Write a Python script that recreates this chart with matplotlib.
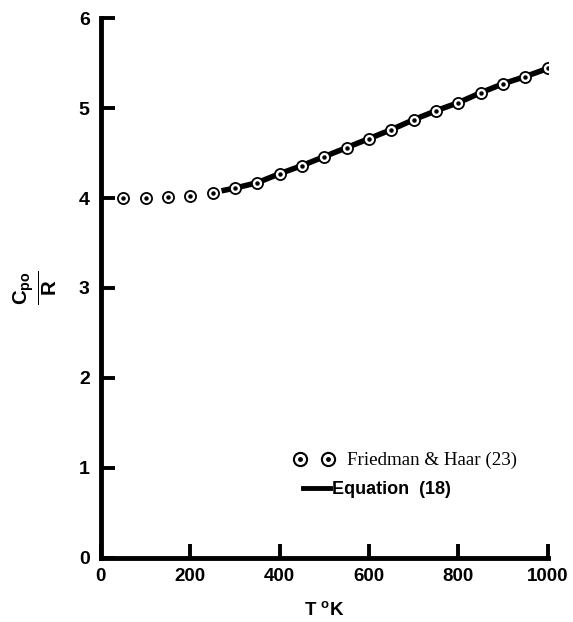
import matplotlib
matplotlib.use("Agg")
import matplotlib.pyplot as plt
from matplotlib.lines import Line2D

# Data: Friedman & Haar (23) points
T_points = [50, 100, 150, 200, 250, 300, 350, 400, 450, 500, 550, 600,
            650, 700, 750, 800, 850, 900, 950, 1000]
cp_points = [4.00, 4.00, 4.01, 4.02, 4.06, 4.11, 4.17, 4.27, 4.36, 4.46, 4.56,
             4.66, 4.76, 4.87, 4.97, 5.06, 5.17, 5.27, 5.34, 5.44]

# Equation (18) curve
T_eq = [270, 300, 350, 400, 450, 500, 550, 600, 650, 700, 750, 800, 850, 900, 950, 1000]
cp_eq = [4.08, 4.11, 4.17, 4.27, 4.36, 4.46, 4.56, 4.66, 4.76, 4.87, 4.97,
         5.06, 5.17, 5.27, 5.35, 5.44]

x_ticks = [0, 200, 400, 600, 800, 1000]
y_ticks = [0, 1, 2, 3, 4, 5, 6]

plt.rcParams['font.family'] = ['Liberation Sans', 'DejaVu Sans']
plt.rcParams['mathtext.fontset'] = 'custom'
plt.rcParams['mathtext.rm'] = 'Liberation Sans:bold'
plt.rcParams['mathtext.bf'] = 'Liberation Sans:bold'
plt.rcParams['mathtext.it'] = 'Liberation Sans:bold'

fig = plt.figure(figsize=(5.73, 6.22), dpi=100)
ax = fig.add_axes([0.176, 0.103, 0.780, 0.868])

ax.plot(T_eq, cp_eq, color='black', lw=4.0, solid_capstyle='butt', zorder=2)
ax.plot(T_points, cp_points, linestyle='none', marker='o', markersize=8,
        markerfacecolor='white', markeredgecolor='black', markeredgewidth=1.3, zorder=3)
ax.plot(T_points, cp_points, linestyle='none', marker='o', markersize=2.2,
        markerfacecolor='black', markeredgecolor='black', zorder=4)

ax.set_xlim(0, 1000)
ax.set_ylim(0, 6)
ax.set_xticks(x_ticks)
ax.set_yticks(y_ticks)
ax.set_xticklabels([str(v) for v in x_ticks], fontsize=13.5, fontweight='bold')
ax.set_yticklabels([str(v) for v in y_ticks], fontsize=14, fontweight='bold')

for s in ['top', 'right']:
    ax.spines[s].set_visible(False)
for s in ['left', 'bottom']:
    ax.spines[s].set_linewidth(3.5)
ax.tick_params(axis='both', direction='in', length=10, width=2.8)
ax.tick_params(axis='y', pad=8)
ax.tick_params(axis='x', pad=7)

ax.set_xlabel(r'T $^{\mathbf{o}}$K', fontsize=13.5, fontweight='bold', labelpad=12)
ax.set_ylabel(r'$\frac{C_{po}}{R}$', fontsize=21, rotation=90, labelpad=14)

# Legend (two one-entry legends to reproduce the original layout)
h1 = Line2D([], [], linestyle='none', marker='o', markersize=9.5,
            markerfacecolor='white', markeredgecolor='black', markeredgewidth=1.5)
h1d = Line2D([], [], linestyle='none', marker='o', markersize=2.5,
             markerfacecolor='black', markeredgecolor='black')
h2 = Line2D([], [], color='black', lw=3.5)

leg1 = ax.legend([(h1, h1d)], ['Friedman & Haar (23)'], numpoints=2,
                 loc='center left', bbox_to_anchor=(0.432, 0.180),
                 frameon=False, handlelength=2.07, handletextpad=0.72,
                 borderpad=0, borderaxespad=0,
                 prop={'family': ['Liberation Serif', 'DejaVu Serif'], 'size': 13.7})
ax.add_artist(leg1)
leg2 = ax.legend([h2], ['Equation  (18)'], loc='center left',
                 bbox_to_anchor=(0.452, 0.126), frameon=False,
                 handlelength=1.5, handletextpad=0.11, borderpad=0, borderaxespad=0,
                 prop={'size': 13, 'weight': 'bold'})

fig.savefig('out.png', dpi=100)
